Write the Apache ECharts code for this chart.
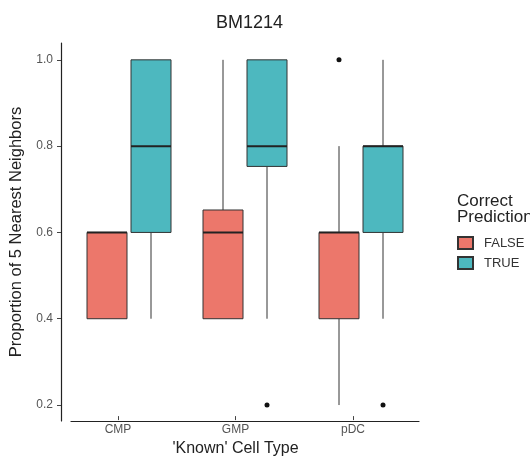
<!DOCTYPE html>
<html><head><meta charset="utf-8">
<script src="https://cdn.jsdelivr.net/npm/echarts@6/dist/echarts.min.js"></script>
<style>html,body{margin:0;padding:0;background:#fff}#c{width:530px;height:462px}</style>
</head><body><div id="c"></div>
<script>
const categories = ['CMP', 'GMP', 'pDC'];
// [min, Q1, median, Q3, max]
const falseStats = [[0.4, 0.4, 0.6, 0.6, 0.6], [0.4, 0.4, 0.6, 0.652, 1.0], [0.2, 0.4, 0.6, 0.6, 0.8]];
const trueStats = [[0.4, 0.6, 0.8, 1.0, 1.0], [0.4, 0.753, 0.8, 1.0, 1.0], [0.4, 0.6, 0.8, 0.8, 1.0]];
// [category index, value]
const falseOutliers = [[2, 1.0]];
const trueOutliers = [[1, 0.2], [2, 0.2]];
const yTicks = [0.2, 0.4, 0.6, 0.8, 1.0];

const FALSE_COLOR = '#EC776B';
const TRUE_COLOR = '#4DB8BF';
const OFF = 22, HW = 20;
const FONT = 'Liberation Sans';

function boxRender(offset, color) {
  return function (params, api) {
    const ci = api.value(0);
    const x = api.coord([ci, api.value(3)])[0] + offset;
    const y = v => api.coord([ci, v])[1];
    const ymin = y(api.value(1)), yq1 = y(api.value(2)), ymed = y(api.value(3)), yq3 = y(api.value(4)), ymax = y(api.value(5));
    return { type: 'group', children: [
      { type: 'line', shape: { x1: x, y1: yq3, x2: x, y2: ymax }, style: { stroke: '#333', lineWidth: 1 } },
      { type: 'line', shape: { x1: x, y1: yq1, x2: x, y2: ymin }, style: { stroke: '#333', lineWidth: 1 } },
      { type: 'rect', shape: { x: x - HW, y: yq3, width: 2 * HW, height: yq1 - yq3 }, style: { fill: color, stroke: '#333', lineWidth: 1 } },
      { type: 'line', shape: { x1: x - HW, y1: ymed, x2: x + HW, y2: ymed }, style: { stroke: '#222', lineWidth: 2 } }
    ]};
  };
}
function pointRender(offset) {
  return function (params, api) {
    const c = api.coord([api.value(0), api.value(1)]);
    return { type: 'circle', shape: { cx: c[0] + offset, cy: c[1], r: 2.5 }, style: { fill: '#111' } };
  };
}
const toRows = s => s.map((r, i) => [i].concat(r));

const Y_MIN = 0.163, Y_MAX = 1.039;
const chart = echarts.init(document.getElementById('c'));
chart.setOption({
  animation: false,
  textStyle: { fontFamily: FONT },
  title: { text: 'BM1214', left: 244.5, top: 9, textAlign: 'center',
    textStyle: { fontSize: 18, fontWeight: 'normal', color: '#222', fontFamily: FONT } },
  grid: [
    { left: 71, top: 43, width: 348, height: 378 },
    { left: 59.25, top: 43, width: 352.5, height: 378 }
  ],
  xAxis: [
    { type: 'category', data: categories, gridIndex: 0,
      axisLine: { lineStyle: { color: '#222', width: 1.2 } },
      axisTick: { show: false }, axisLabel: { show: false } },
    { type: 'category', data: categories, gridIndex: 1,
      name: "'Known' Cell Type", nameLocation: 'middle', nameGap: 23,
      nameTextStyle: { fontSize: 16, color: '#222' },
      axisLine: { show: false },
      axisTick: { show: true, alignWithLabel: true, length: 4, lineStyle: { color: '#444' } },
      axisLabel: { fontSize: 12, color: '#555', margin: 8 } }
  ],
  yAxis: [
    { type: 'value', gridIndex: 0, min: Y_MIN, max: Y_MAX, offset: 10,
      name: 'Proportion of 5 Nearest Neighbors', nameLocation: 'middle', nameGap: 31,
      nameTextStyle: { fontSize: 16.5, color: '#222' },
      splitLine: { show: false },
      axisLine: { show: true, lineStyle: { color: '#222', width: 1.2 } },
      axisTick: { show: true, length: 4, customValues: yTicks, lineStyle: { color: '#444' } },
      axisLabel: { fontSize: 12, color: '#555', margin: 8, customValues: yTicks, formatter: v => v.toFixed(1) } },
    { type: 'value', gridIndex: 1, min: Y_MIN, max: Y_MAX, show: false }
  ],
  legend: {
    data: ['FALSE', 'TRUE'], orient: 'vertical', left: 457, top: 236, padding: 0,
    itemWidth: 15, itemHeight: 12, itemGap: 6, icon: 'rect',
    textStyle: { fontSize: 13, color: '#333', padding: [0, 0, 0, 6] }
  },
  graphic: [
    { type: 'text', left: 457, top: 193, style: { text: 'Correct\nPrediction', fontSize: 17, lineHeight: 15.5, fill: '#222', fontFamily: FONT } }
  ],
  series: [
    { name: 'FALSE', type: 'custom', xAxisIndex: 0, yAxisIndex: 0, renderItem: boxRender(-OFF, FALSE_COLOR), data: toRows(falseStats),
      encode: { x: 0, y: [1, 2, 3, 4, 5] }, itemStyle: { color: FALSE_COLOR, borderColor: '#333', borderWidth: 1 } },
    { name: 'TRUE', type: 'custom', xAxisIndex: 0, yAxisIndex: 0, renderItem: boxRender(OFF, TRUE_COLOR), data: toRows(trueStats),
      encode: { x: 0, y: [1, 2, 3, 4, 5] }, itemStyle: { color: TRUE_COLOR, borderColor: '#333', borderWidth: 1 } },
    { name: 'outF', type: 'custom', xAxisIndex: 0, yAxisIndex: 0, renderItem: pointRender(-OFF), data: falseOutliers, encode: { x: 0, y: 1 } },
    { name: 'outT', type: 'custom', xAxisIndex: 0, yAxisIndex: 0, renderItem: pointRender(OFF), data: trueOutliers, encode: { x: 0, y: 1 } }
  ]
});
</script></body></html>
